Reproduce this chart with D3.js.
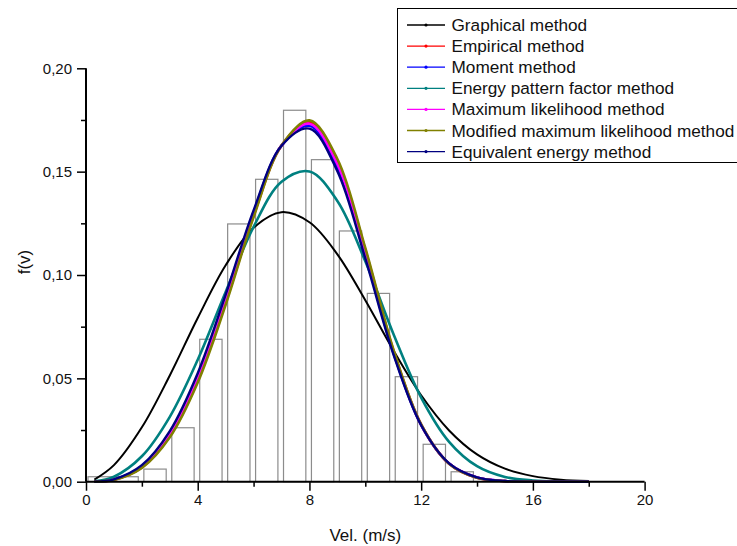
<!DOCTYPE html>
<html><head><meta charset="utf-8">
<script src="https://cdn.jsdelivr.net/npm/d3@7/dist/d3.min.js"></script>
<style>body{margin:0;background:#fff}svg{display:block;font-family:"Liberation Sans",Arial,sans-serif}</style>
</head><body><svg id="c" width="737" height="546"></svg>
<script>
// ---- data ----
const binStart = [0, 2, 3, 4, 5, 6, 7, 8, 9, 10, 11, 12, 13];
const binEnd   = [2, 3, 4, 5, 6, 7, 8, 9, 10, 11, 12, 13, 14];
const freq     = [0.0024, 0.0061, 0.0261, 0.0689, 0.1247, 0.1463, 0.1797, 0.1558, 0.1213, 0.0911, 0.0508, 0.0181, 0.0048];

const velocity   = [0.3, 1, 2, 3, 4, 5, 6, 7, 8, 9, 10, 11, 12, 13, 14, 15, 16, 17, 18];
const graphical  = [0.0010, 0.0080, 0.0263, 0.0514, 0.0792, 0.1047, 0.1229, 0.1304, 0.1255, 0.1100, 0.0878, 0.0637, 0.0418, 0.0248, 0.0132, 0.0063, 0.0027, 0.0010, 0.0003];
const empirical  = [0.00004, 0.00094, 0.0069, 0.0221, 0.0489, 0.0866, 0.1286, 0.1626, 0.1740, 0.1549, 0.1121, 0.0638, 0.0276, 0.0087, 0.0019, 0.0003, 0.00002, 0, 0];
const moment     = [0.00004, 0.00106, 0.0075, 0.0234, 0.0509, 0.0888, 0.1302, 0.1626, 0.1722, 0.1522, 0.1098, 0.0627, 0.0274, 0.0088, 0.0020, 0.0003, 0.00002, 0, 0];
const energyPF   = [0.00014, 0.0024, 0.0123, 0.0314, 0.0590, 0.0918, 0.1233, 0.1451, 0.1501, 0.1358, 0.1066, 0.0717, 0.0407, 0.0193, 0.0075, 0.0023, 0.0006, 0.0001, 0.00002];
const maxLik     = [0.00004, 0.00099, 0.0072, 0.0227, 0.0498, 0.0876, 0.1293, 0.1626, 0.1732, 0.1537, 0.1111, 0.0633, 0.0275, 0.0088, 0.0020, 0.0003, 0.00002, 0, 0];
const modMaxLik  = [0.00003, 0.00088, 0.0067, 0.0215, 0.0480, 0.0856, 0.1280, 0.1626, 0.1748, 0.1561, 0.1131, 0.0643, 0.0277, 0.0087, 0.0019, 0.0003, 0.00002, 0, 0];
const equivEn    = [0.00005, 0.00116, 0.0080, 0.0245, 0.0525, 0.0905, 0.1313, 0.1625, 0.1708, 0.1502, 0.1080, 0.0619, 0.0273, 0.0089, 0.0021, 0.00035, 0.00003, 0, 0];

const seriesNames = ["Graphical method", "Empirical method", "Moment method", "Energy pattern factor method",
                     "Maximum likelihood method", "Modified maximum likelihood method", "Equivalent energy method"];
const seriesValues = [graphical, empirical, moment, energyPF, maxLik, modMaxLik, equivEn];
const seriesColors = ["#000000", "#ff0000", "#0000ff", "#008080", "#ff00ff", "#808000", "#000080"];
const seriesWidths = [2, 2.6, 2.6, 2.6, 2.6, 2.6, 2.4];

const xTicks = [0, 4, 8, 12, 16, 20];
const xMinor = [2, 6, 10, 14, 18];
const yTicks = [0, 0.05, 0.10, 0.15, 0.20];
const yMinor = [0.025, 0.075, 0.125, 0.175];

// ---- drawing ----
const svg = d3.select("#c");
const x = d3.scaleLinear().domain([0, 20]).range([86, 644.6]);
const y = d3.scaleLinear().domain([0, 0.2]).range([481.7, 68.3]);
const fmt = d => d3.format(".2f")(d).replace(".", ",");

// histogram
svg.append("g").selectAll("rect").data(freq).join("rect")
  .attr("x", (d, i) => x(binStart[i]) + 2)
  .attr("width", (d, i) => x(binEnd[i]) - x(binStart[i]) - 5.6)
  .attr("y", d => y(d))
  .attr("height", d => y(0) - y(d))
  .attr("fill", "none").attr("stroke", "#8c8c8c").attr("stroke-width", 1.2);

// curves
const line = d3.line().x((d, i) => x(velocity[i])).y(d => y(d)).curve(d3.curveCatmullRom);
seriesValues.forEach((vals, s) => {
  svg.append("path").attr("d", line(vals)).attr("fill", "none")
    .attr("stroke", seriesColors[s]).attr("stroke-width", seriesWidths[s]).attr("stroke-linejoin", "round");
});

// axes
const xAxis = svg.append("g").attr("transform", `translate(0,${y(0)})`)
  .call(d3.axisBottom(x).tickValues(xTicks).tickSize(9).tickPadding(4).tickFormat(d3.format("d")));
svg.append("g").attr("transform", `translate(0,${y(0)})`)
  .call(d3.axisBottom(x).tickValues(xMinor).tickSize(5).tickFormat(""))
  .select(".domain").remove();
const yAxis = svg.append("g").attr("transform", `translate(${x(0)},0)`)
  .call(d3.axisLeft(y).tickValues(yTicks).tickSize(9).tickPadding(5).tickFormat(fmt));
svg.append("g").attr("transform", `translate(${x(0)},0)`)
  .call(d3.axisLeft(y).tickValues(yMinor).tickSize(5).tickFormat(""))
  .select(".domain").remove();
svg.selectAll(".domain").attr("stroke", "#000").attr("stroke-width", 2);
svg.selectAll(".tick line").attr("stroke", "#000").attr("stroke-width", 1.5);
svg.selectAll(".tick text").attr("font-size", 15).attr("fill", "#111")
  .attr("font-family", '"Liberation Sans",Arial,sans-serif');
xAxis.select(".domain").attr("d", `M${x(0)},0H${x(20)}`);
yAxis.select(".domain").attr("d", `M0,${y(0)}V${y(0.2)}`);

// axis titles
svg.append("text").attr("x", x(10)).attr("y", 541).attr("text-anchor", "middle")
  .attr("font-size", 17).attr("fill", "#111").text("Vel. (m/s)");
svg.append("text").attr("transform", `translate(30,262) rotate(-90)`).attr("text-anchor", "middle")
  .attr("font-size", 17).attr("fill", "#111").text("f(v)");

// legend
const lg = svg.append("g");
lg.append("rect").attr("x", 397.5).attr("y", 8.5).attr("width", 360).attr("height", 154)
  .attr("fill", "#fff").attr("stroke", "#000").attr("stroke-width", 1);
seriesNames.forEach((name, i) => {
  const yy = 25 + i * 21.1;
  lg.append("line").attr("x1", 407).attr("x2", 445).attr("y1", yy).attr("y2", yy)
    .attr("stroke", seriesColors[i]).attr("stroke-width", 1.3);
  lg.append("circle").attr("cx", 426).attr("cy", yy).attr("r", 1.6).attr("fill", seriesColors[i]);
  lg.append("text").attr("x", 451.5).attr("y", yy + 6).attr("font-size", 17.2).attr("fill", "#111").text(name);
});
</script></body></html>
